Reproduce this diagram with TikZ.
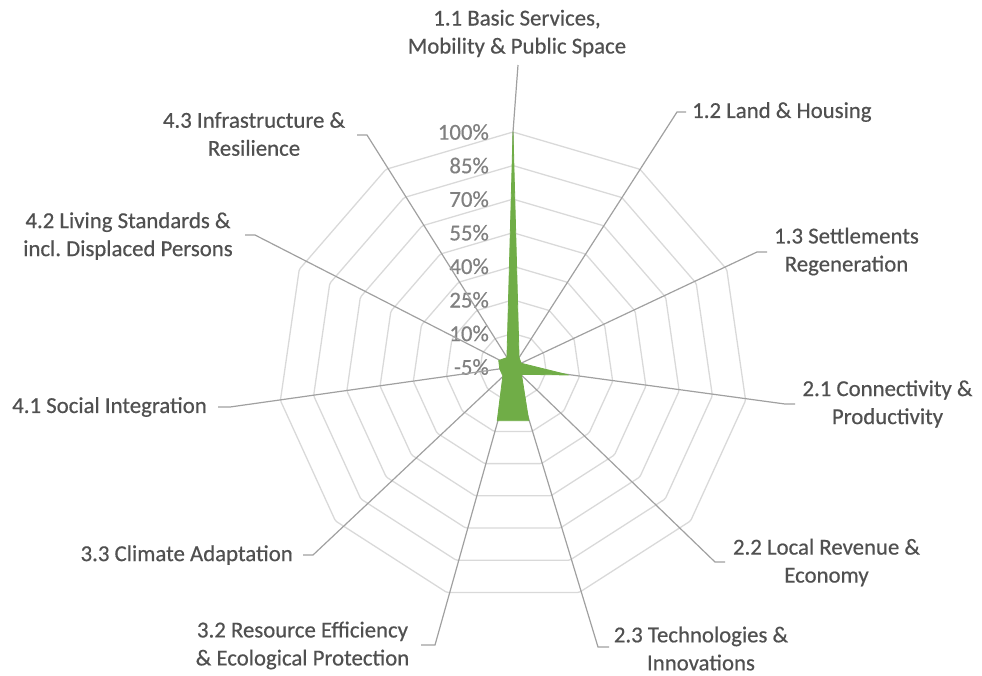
\documentclass[tikz,border=0pt]{standalone}
\usepackage{fontspec}
\setmainfont{Carlito}
\newfontfamily\labfont{Carlito}[FakeBold=0.5]
\definecolor{ringc}{HTML}{D9D9D9}
\definecolor{spokec}{HTML}{A0A0A0}
\definecolor{labc}{HTML}{505050}
\definecolor{tickc}{HTML}{808080}
\definecolor{datac}{HTML}{70AD47}
\begin{document}
\begin{tikzpicture}[x=1pt,y=-1pt,
  font=\labfont\fontsize{22.8}{28}\selectfont,
  ring/.style={draw=ringc,line width=1.3pt,rounded corners=1.5pt},
  spoke/.style={draw=spokec,line width=1.2pt},
  lab/.style={inner sep=0pt,align=center,text=labc},
  tick/.style={inner sep=0pt,anchor=east,text=tickc},
  datafill/.style={fill=datac,draw=datac,line width=0.8pt,line join=round}]
\useasboundingbox (0,0) rectangle (982,675);
\coordinate (c) at (513,367);
\begin{scope}[shift={(513,367)}]
  \foreach \k in {1,...,7}{
    \draw[ring] (-90:\k*33.5714) \foreach \i in {1,...,10}{ -- (-90+\i*32.72727:\k*33.5714) } -- cycle;
  }
\end{scope}
% tick labels
\foreach \k/\t in {0/-5\%,1/10\%,2/25\%,3/40\%,4/55\%,5/70\%,6/85\%,7/100\%}{
  \node[tick] (t\k) at (489,367-\k*33.5714) {\t};
}
% leader coordinates
\coordinate (v11) at (513,132);
\coordinate (e11) at (518,65);
\coordinate (b12) at (677,112); \coordinate (e12) at (686,112);
\coordinate (b13) at (757,252); \coordinate (e13) at (767,252);
\coordinate (b21) at (785,404); \coordinate (e21) at (795,404);
\coordinate (b22) at (715,562); \coordinate (e22) at (725,562);
\coordinate (b23) at (598,647); \coordinate (e23) at (609,647);
\coordinate (b32) at (435,645); \coordinate (e32) at (421,645);
\coordinate (b33) at (313,555); \coordinate (e33) at (303,555);
\coordinate (b41) at (230,407); \coordinate (e41) at (218,407);
\coordinate (b42) at (255,235); \coordinate (e42) at (245,235);
\coordinate (b43) at (367,135); \coordinate (e43) at (357,135);
\draw[spoke] (c) -- (v11) -- (e11);
\foreach \n in {12,13,21,22,23,32,33,41,42,43}{
  \draw[spoke] (c) -- (b\n) -- (e\n);
}
% data polygon
\begin{scope}[shift={(513,367)}]
  \fill[datafill] (-90:235) -- (-57.27:11.2) -- (-24.55:9.0) -- (8.18:56.0)
    -- (40.91:11.2) -- (73.64:56.0) -- (106.36:56.0) -- (139.09:13.4)
    -- (171.82:13.4) -- (204.55:15.7) -- (237.27:11.2) -- cycle;
\end{scope}
% category labels
\node[lab] (l11) at (517,33.5) {1.1 Basic Services,\\Mobility \& Public Space};
\node[lab,anchor=west] (l12) at (692,112) {1.2 Land \& Housing};
\node[lab] (l13) at (846.5,251.5) {1.3 Settlements\\Regeneration};
\node[lab] (l21) at (887.5,404) {2.1 Connectivity \&\\Productivity};
\node[lab] (l22) at (826.5,562.5) {2.2 Local Revenue \&\\Economy};
\node[lab] (l23) at (701,648.5) {2.3 Technologies \&\\Innovations};
\node[lab] (l32) at (302.5,645.5) {3.2 Resource Efficiency\\\& Ecological Protection};
\node[lab,anchor=east] (l33) at (293,555) {3.3 Climate Adaptation};
\node[lab,anchor=east] (l41) at (207,407) {4.1 Social Integration};
\node[lab] (l42) at (128,236) {4.2 Living Standards \&\\incl.\ Displaced Persons};
\node[lab] (l43) at (254,134) {4.3 Infrastructure \&\\Resilience};
\end{tikzpicture}
\end{document}
